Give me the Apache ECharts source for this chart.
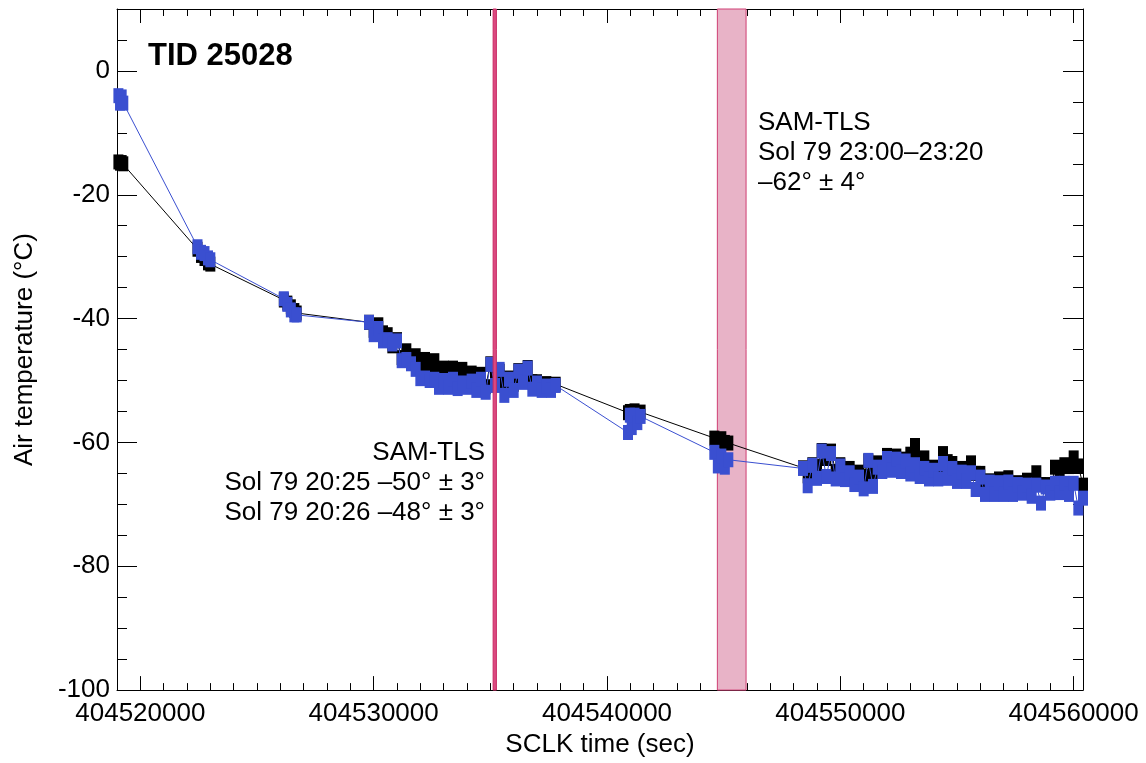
<!DOCTYPE html>
<html>
<head>
<meta charset="utf-8">
<title>TID 25028</title>
<script src="https://cdn.jsdelivr.net/npm/echarts@6/dist/echarts.min.js"></script>
<style>
  html, body { margin: 0; padding: 0; background: #fff; }
  #chart { width: 1146px; height: 763px; }
</style>
</head>
<body>
<div id="chart"></div>
<script>
// SCLK time (sec) of each sample, clusters in time order
const sclk = [
  404519060, 404519130, 404519200, 404519270,
  404522450, 404522600, 404522750, 404522900, 404523000,
  404526150, 404526300, 404526450, 404526600, 404526700,
  404529800, 404530000, 404530200, 404530400, 404530600, 404530800, 404531000, 404531200, 404531400, 404531600,
  404531800, 404532000, 404532200, 404532400, 404532600, 404532800, 404533000, 404533200, 404533400, 404533600,
  404533800, 404534000, 404534200, 404534400, 404534600, 404534800, 404535000, 404535200, 404535400, 404535600,
  404535800, 404536000, 404536200, 404536400, 404536600, 404536800, 404537000, 404537200, 404537400, 404537600,
  404537800,
  404540900, 404540980, 404541060, 404541180, 404541300, 404541440,
  404544600, 404544750, 404544900, 404545050, 404545200,
  404548400, 404548600, 404548800, 404549000, 404549200, 404549400, 404549600, 404549800, 404550000, 404550200,
  404550400, 404550600, 404550800, 404551000, 404551200, 404551400, 404551600, 404551800, 404552000, 404552200,
  404552400, 404552600, 404552800, 404553000, 404553200, 404553400, 404553600, 404553800, 404554000, 404554200,
  404554400, 404554600, 404554800, 404555000, 404555200, 404555400, 404555600, 404555800, 404556000, 404556200,
  404556400, 404556600, 404556800, 404557000, 404557200, 404557400, 404557600, 404557800, 404558000, 404558200,
  404558400, 404558600, 404558800, 404559000, 404559200, 404559400, 404559600, 404559800, 404560000, 404560200,
  404560400, 404560600
];

// air temperature (°C), black series
const tempBlack = [
  -14.7, -14.9, -14.8, -15.0,
  -28.8, -29.8, -30.3, -31.0, -31.2,
  -37.0, -37.5, -38.1, -38.7, -39.1,
  -40.6, -41.9, -41.0, -42.3, -42.6, -44.4, -43.4, -46.3, -45.2, -46.8,
  -46.0, -47.9, -46.6, -48.0, -46.8, -48.4, -48.0, -49.2, -48.0, -49.5,
  -48.2, -49.8, -48.8, -50.1, -49.0, -51.0, -47.3, -48.6, -48.5, -50.4,
  -49.6, -50.6, -48.4, -49.6, -47.9, -50.2, -50.2, -50.8, -50.5, -50.9,
  -50.6,
  -55.2, -55.0, -55.6, -54.9, -55.5, -55.1,
  -59.3, -59.8, -59.4, -60.0, -60.1,
  -64.1, -65.4, -63.6, -63.9, -61.3, -62.6, -61.4, -64.7, -63.6, -65.0,
  -64.2, -65.9, -64.8, -65.5, -63.0, -65.2, -63.3, -63.6, -62.1, -63.4,
  -62.2, -64.0, -62.7, -61.9, -60.5, -62.6, -62.5, -64.7, -64.0, -65.5,
  -61.8, -63.1, -63.4, -65.8, -64.2, -64.7, -63.3, -65.0, -65.0, -67.0,
  -66.2, -67.5, -65.9, -67.0, -65.7, -67.2, -66.5, -67.9, -66.1, -66.3,
  -64.9, -66.8, -66.8, -67.9, -64.0, -64.7, -63.6, -63.9, -62.5, -63.8,
  -66.9, -69.3
];

// air temperature (°C), blue series
const tempBlue = [
  -4.0, -5.2, -4.2, -5.2,
  -28.4, -29.3, -29.5, -30.2, -30.5,
  -36.8, -37.7, -38.6, -39.4, -39.4,
  -40.6, -42.6, -41.6, -43.6, -43.4, -44.1, -43.6, -46.8, -46.6, -47.3,
  -48.2, -49.7, -49.6, -50.0, -49.8, -51.1, -50.0, -51.1, -49.8, -51.3,
  -50.4, -51.1, -50.1, -51.6, -49.8, -51.9, -47.4, -50.8, -48.2, -52.4,
  -49.8, -51.6, -48.5, -50.3, -48.0, -51.4, -50.4, -51.6, -50.9, -51.6,
  -50.8,
  -58.4, -55.6, -57.6, -55.6, -56.8, -55.8,
  -61.6, -63.8, -62.2, -64.0, -62.8,
  -64.2, -67.0, -63.7, -65.8, -61.4, -65.5, -61.8, -65.9, -63.8, -66.0,
  -64.9, -66.8, -65.6, -67.5, -62.9, -67.1, -64.0, -64.7, -62.6, -64.5,
  -62.7, -64.7, -63.0, -65.1, -63.6, -65.5, -64.2, -65.9, -64.5, -65.9,
  -63.4, -65.8, -64.2, -66.3, -64.8, -66.3, -64.9, -67.6, -65.6, -68.4,
  -66.4, -68.4, -66.5, -68.4, -66.4, -68.4, -66.8, -68.2, -66.9, -68.7,
  -66.9, -69.8, -67.2, -68.2, -66.6, -68.1, -66.6, -68.4, -66.6, -70.6,
  -69.0, -72.2
];

// SAM-TLS measurement windows (SCLK sec)
const tlsStart = [404535120, 404544730];
const tlsEnd = [404535260, 404545960];

// tick labels
const xTicks = [404520000, 404530000, 404540000, 404550000, 404560000];
const yTicks = [-100, -80, -60, -40, -20, 0];

const FONT = '"Liberation Sans", Arial, Helvetica, sans-serif';
const X_MIN = 404519000, X_MAX = 404560400;
const Y_MIN = -100, Y_MAX = 10;

let chart = echarts.init(document.getElementById('chart'));

// one axis for the short ticks, one for the long ticks + labels
function xAxisPair(position, withLabels) {
  let minor = {
    type: 'value', position: position, min: X_MIN, max: X_MAX, interval: 1000,
    axisLine: { show: true, onZero: false, lineStyle: { color: '#000', width: 1 } },
    axisTick: { inside: true, length: 7, lineStyle: { color: '#000', width: 1 } },
    axisLabel: { show: false },
    splitLine: { show: false }
  };
  let major = {
    type: 'value', position: position, min: X_MIN, max: X_MAX,
    axisLine: { show: false, onZero: false },
    axisTick: { inside: true, length: 14, customValues: xTicks, lineStyle: { color: '#000', width: 1 } },
    axisLabel: {
      show: withLabels, customValues: xTicks, margin: 11,
      color: '#000', fontSize: 26, fontFamily: FONT,
      formatter: function (v) { return String(v); }
    },
    splitLine: { show: false }
  };
  if (withLabels) {
    major.name = 'SCLK time (sec)';
    major.nameLocation = 'middle';
    major.nameGap = 39;
    major.nameTextStyle = { color: '#000', fontSize: 26, fontFamily: FONT };
  }
  return [minor, major];
}

function yAxisPair(position, withLabels) {
  let minor = {
    type: 'value', position: position, min: Y_MIN, max: Y_MAX, interval: 5,
    axisLine: { show: true, onZero: false, lineStyle: { color: '#000', width: 1 } },
    axisTick: { inside: true, length: 10, lineStyle: { color: '#000', width: 1 } },
    axisLabel: { show: false },
    splitLine: { show: false }
  };
  let major = {
    type: 'value', position: position, min: Y_MIN, max: Y_MAX,
    axisLine: { show: false, onZero: false },
    axisTick: { inside: true, length: 20, customValues: yTicks, lineStyle: { color: '#000', width: 1 } },
    axisLabel: {
      show: withLabels, customValues: yTicks, margin: 7,
      color: '#000', fontSize: 26, fontFamily: FONT
    },
    splitLine: { show: false }
  };
  if (withLabels) {
    major.name = 'Air temperature (°C)';
    major.nameLocation = 'middle';
    major.nameGap = 79;
    major.nameTextStyle = { color: '#000', fontSize: 26, fontFamily: FONT };
  }
  return [minor, major];
}

let option = {
  animation: false,
  backgroundColor: '#fff',
  grid: { left: 117, right: 63, top: 9, bottom: 68 },
  xAxis: xAxisPair('bottom', true).concat(xAxisPair('top', false)),
  yAxis: yAxisPair('left', true).concat(yAxisPair('right', false)),
  graphic: [
    {
      type: 'text', x: 148, y: 41,
      style: { text: 'TID 25028', font: 'bold 31px ' + FONT, fill: '#000', align: 'left', verticalAlign: 'top' }
    },
    {
      type: 'text', x: 485, y: 438,
      style: {
        text: 'SAM-TLS\nSol 79 20:25 –50° ± 3°\nSol 79 20:26 –48° ± 3°',
        font: '26px ' + FONT, lineHeight: 30, fill: '#000', align: 'right', verticalAlign: 'top'
      }
    },
    {
      type: 'text', x: 758, y: 108,
      style: {
        text: 'SAM-TLS\nSol 79 23:00–23:20\n–62° ± 4°',
        font: '26px ' + FONT, lineHeight: 30, fill: '#000', align: 'left', verticalAlign: 'top'
      }
    }
  ],
  series: [
    {
      name: 'black',
      type: 'line',
      xAxisIndex: 0, yAxisIndex: 0,
      data: sclk.map(function (t, i) { return [t, tempBlack[i]]; }),
      symbol: 'rect', symbolSize: [10, 15],
      itemStyle: { color: '#000' },
      lineStyle: { color: '#000', width: 1 },
      z: 3,
      markArea: {
        silent: true,
        itemStyle: { color: '#e8b3c7', borderColor: '#cf3f74', borderWidth: 1 },
        data: [[{ xAxis: tlsStart[1] }, { xAxis: tlsEnd[1] }]]
      }
    },
    {
      name: 'blue',
      type: 'line',
      xAxisIndex: 0, yAxisIndex: 0,
      data: sclk.map(function (t, i) { return [t, tempBlue[i]]; }),
      symbol: 'rect', symbolSize: [10, 15],
      itemStyle: { color: '#3a4fd0' },
      lineStyle: { color: '#3a4fd0', width: 1 },
      z: 4,
      markArea: {
        silent: true,
        z: 10,
        itemStyle: { color: '#dc4a80', borderColor: '#c92b65', borderWidth: 1 },
        data: [[{ xAxis: tlsStart[0] }, { xAxis: tlsEnd[0] }]]
      }
    }
  ]
};

chart.setOption(option);
</script>
</body>
</html>
